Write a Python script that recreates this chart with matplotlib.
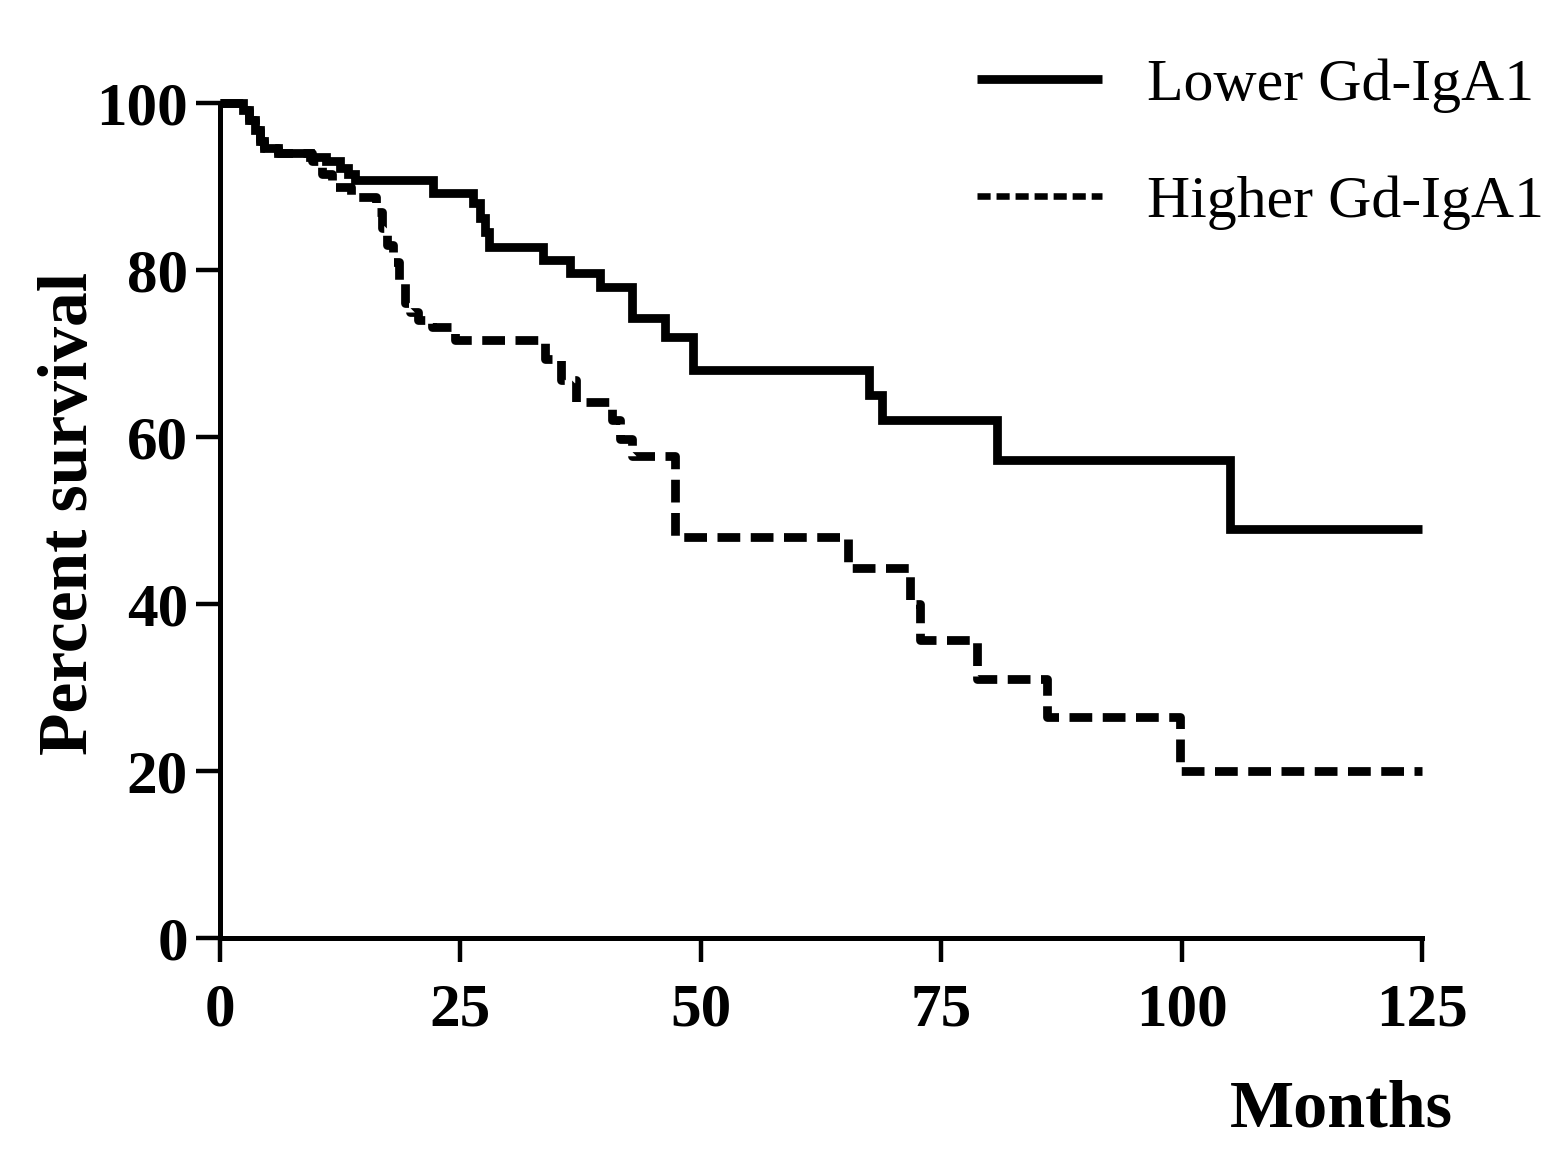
import matplotlib
matplotlib.use('Agg')
import matplotlib.pyplot as plt
from matplotlib.lines import Line2D

# Kaplan-Meier steps (months, percent survival)
lower_t = [0, 2.4, 3.0, 3.6, 4.2, 4.6, 6.0, 9.4, 11.0, 12.5, 13.3, 14.0, 22.2, 26.3,
           27.0, 27.6, 28.0, 33.6, 36.4, 39.5, 42.8, 46.3, 49.2, 67.5, 68.8, 80.8, 105.0, 125]
lower_s = [100, 99.2, 98.0, 96.8, 95.5, 94.6, 94.0, 93.5, 93.0, 92.2, 91.5, 90.8, 89.2, 88.0,
           86.2, 84.5, 82.8, 81.2, 79.6, 78.0, 74.2, 72.0, 68.0, 65.0, 62.0, 57.2, 49.0, 49.0]

higher_t = [0, 2.4, 3.0, 3.6, 4.2, 4.6, 6.0, 9.6, 10.6, 11.6, 13.6, 16.2, 16.8, 17.4, 18.0,
            18.6, 19.2, 19.8, 20.6, 22.0, 24.4, 33.8, 35.5, 37.0, 40.8, 41.6, 42.8, 47.3,
            65.3, 71.8, 72.8, 78.7, 86.0, 99.8, 125]
higher_s = [100, 99.2, 98.0, 96.8, 95.5, 94.6, 94.0, 93.0, 91.5, 90.0, 88.8, 87.0, 85.0, 83.0,
            81.0, 78.5, 76.0, 75.0, 74.0, 73.2, 71.6, 69.3, 66.8, 64.2, 62.0, 59.8, 57.7, 48.0,
            44.3, 40.0, 35.7, 31.0, 26.5, 20.0, 20.0]

labels = ['Lower Gd-IgA1', 'Higher Gd-IgA1']
x_ticks = [0, 25, 50, 75, 100, 125]
y_ticks = [0, 20, 40, 60, 80, 100]

plt.rcParams['font.family'] = ['Liberation Serif', 'DejaVu Serif']

fig = plt.figure(figsize=(15.66, 11.62), dpi=100)
ax = fig.add_axes([220 / 1566, 1 - 938 / 1162, 1202 / 1566, 835 / 1162])

lw = 6.3
ax.plot(lower_t, lower_s, drawstyle='steps-post', color='black', lw=lw,
        solid_joinstyle='miter', solid_capstyle='butt', clip_on=False)
ax.plot(higher_t, higher_s, drawstyle='steps-post', color='black', lw=lw,
        dashes=(2.6, 1.2), dash_capstyle='butt', clip_on=False)

ax.set_xlim(0, 125)
ax.set_ylim(0, 100)
ax.set_xticks(x_ticks)
ax.set_yticks(y_ticks)
for side in ['top', 'right']:
    ax.spines[side].set_visible(False)
for side in ['left', 'bottom']:
    ax.spines[side].set_linewidth(3.6)
ax.tick_params(axis='both', width=3.2, length=17, labelsize=44)
ax.tick_params(axis='x', pad=15)
ax.tick_params(axis='y', pad=6)
for lab in ax.get_xticklabels() + ax.get_yticklabels():
    lab.set_fontweight('bold')

ax.set_ylabel('Percent survival', fontsize=50, fontweight='bold')
ax.yaxis.set_label_coords(-0.125, 0.509)
ax.yaxis.label.set_va('center')
ax.set_xlabel('Months', fontsize=49, fontweight='bold')
ax.xaxis.set_label_coords(0.933, -0.206)
ax.xaxis.label.set_va('center')

handles = [Line2D([], [], color='black', lw=lw, solid_capstyle='butt'),
           Line2D([], [], color='black', lw=lw * 0.75, dashes=(2.0, 0.9))]
fig.legend(handles, labels, loc='upper left', bbox_to_anchor=(977 / 1566, 1 - 58 / 1162),
           frameon=False, fontsize=43, handlelength=2.1, handletextpad=0.75,
           labelspacing=1.05, borderpad=0, borderaxespad=0)

fig.savefig('out.png', dpi=100)
